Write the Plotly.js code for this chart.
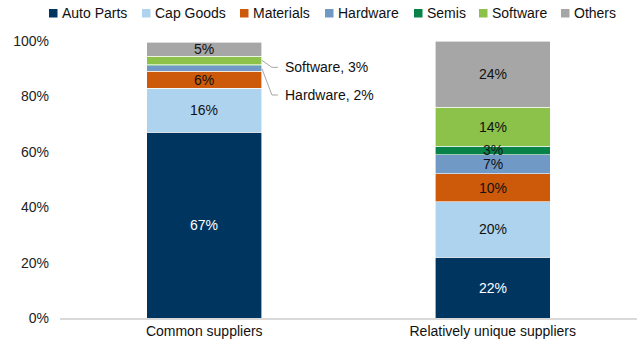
<!DOCTYPE html>
<html>
<head>
<meta charset="utf-8">
<script src="https://cdn.plot.ly/plotly-3.0.1.min.js"></script>
<style>
  html, body { margin: 0; padding: 0; background: #fff; }
  #chart { width: 642px; height: 349px; }
</style>
</head>
<body>
<div id="chart"></div>
<script>
// Supplier mix by end-market, share of suppliers (%)
const categories = ['Common suppliers', 'Relatively unique suppliers'];
const seriesNames = ['Auto Parts', 'Cap Goods', 'Materials', 'Hardware', 'Semis', 'Software', 'Others'];
const autoParts = [67, 22];
const capGoods  = [16, 20];
const materials = [6, 10];
const hardware  = [2, 7];
const semis     = [0.5, 3];
const software  = [3, 14];
const others    = [5, 24];
const yTickVals = [0, 20, 40, 60, 80, 100];
const yTickText = ['0%', '20%', '40%', '60%', '80%', '100%'];

// slices of the first bar that are called out beside it rather than labelled inside
const calloutSeries = ['Software', 'Hardware'];

const seriesValues = [autoParts, capGoods, materials, hardware, semis, software, others];
const colors = ['#00355f', '#aed3ef', '#cc5a0a', '#7199c6', '#07834a', '#8cc24a', '#a6a6a6'];
const textColors = ['#ffffff', '#111', '#111', '#111', '#111', '#111', '#111'];
const FONT = 'Liberation Sans, Arial, sans-serif';

// plot geometry (pixels)
const W = 642, H = 349;
const M = { l: 60, r: 5, t: 41, b: 31 };
const plotW = W - M.l - M.r, plotH = H - M.t - M.b;
const xIdx = categories.map((_, i) => i);

const traces = seriesNames.map((name, s) => ({
  type: 'bar',
  name: name,
  x: xIdx,
  y: seriesValues[s],
  width: 0.4,
  marker: { color: colors[s], line: { color: '#ffffff', width: 0.6 } },
  hoverinfo: 'skip',
  showlegend: false
}));

const shapes = [];
const annotations = [];

// value labels centred in each stacked slice, drawn on top of all bars
xIdx.forEach(i => {
  let base = 0;
  seriesNames.forEach((name, s) => {
    const v = seriesValues[s][i];
    const mid = base + v / 2;
    base += v;
    if (i === 0 && (calloutSeries.includes(name) || v < 1)) return;
    annotations.push({
      xref: 'x', yref: 'y', x: i, y: mid,
      xanchor: 'center', yanchor: 'middle', showarrow: false,
      text: v + '%',
      font: { family: FONT, size: 14, color: textColors[s] }
    });
  });
});

// callout leader lines for the small slices of the first bar
const calloutLabelY = { Software: 90.5, Hardware: 80.5 };
const barHalf = 0.2;
const pxPerX = plotW / 2;
calloutSeries.forEach(name => {
  const s = seriesNames.indexOf(name);
  let base = 0;
  for (let k = 0; k < s; k++) base += seriesValues[k][0];
  const mid = base + seriesValues[s][0] / 2;
  const x0 = xIdx[0] + barHalf;
  const x1 = x0 + 10 / pxPerX;
  const x2 = x0 + 16 / pxPerX;
  const ly = calloutLabelY[name];
  shapes.push({
    type: 'path', xref: 'x', yref: 'y',
    path: `M ${x0},${mid} L ${x1},${ly} L ${x2},${ly}`,
    line: { color: '#a6a6a6', width: 1 }
  });
  annotations.push({
    xref: 'x', yref: 'y', x: x0 + 21 / pxPerX, y: ly,
    xanchor: 'left', yanchor: 'middle', showarrow: false,
    text: `${name}, ${seriesValues[s][0]}%`,
    font: { family: FONT, size: 14, color: '#111' }
  });
});

// legend row across the top
const legendSquareX = [49, 142, 240, 325, 414, 479, 561];
const px2paperX = px => (px - M.l) / plotW;
const px2paperY = py => 1 + (M.t - py) / plotH;
seriesNames.forEach((name, s) => {
  const sx = legendSquareX[s];
  shapes.push({
    type: 'rect', xref: 'paper', yref: 'paper',
    x0: px2paperX(sx), x1: px2paperX(sx + 8.5),
    y0: px2paperY(17.5), y1: px2paperY(9),
    fillcolor: colors[s], line: { width: 0 }
  });
  annotations.push({
    xref: 'paper', yref: 'paper', x: px2paperX(sx + 10.5), y: px2paperY(13.5),
    xanchor: 'left', yanchor: 'middle', showarrow: false,
    text: name,
    font: { family: FONT, size: 14, color: '#111' }
  });
});

const layout = {
  width: W, height: H,
  margin: M,
  paper_bgcolor: '#ffffff',
  plot_bgcolor: '#ffffff',
  barmode: 'stack',
  showlegend: false,
  font: { family: FONT, size: 14, color: '#222' },
  xaxis: {
    range: [-0.5, 1.5],
    tickvals: xIdx,
    ticktext: categories,
    showgrid: false,
    zeroline: false,
    showline: true,
    linecolor: '#d9d9d9',
    linewidth: 1.5,
    ticks: '',
    tickfont: { family: FONT, size: 14, color: '#111' },
    fixedrange: true
  },
  yaxis: {
    range: [0, 100],
    tickvals: yTickVals,
    ticktext: yTickText,
    showgrid: false,
    zeroline: false,
    showline: false,
    ticks: '',
    ticklabelstandoff: 10,
    tickfont: { family: FONT, size: 14, color: '#222' },
    fixedrange: true
  },
  shapes: shapes,
  annotations: annotations
};

Plotly.newPlot('chart', traces, layout, { staticPlot: true, displayModeBar: false });
</script>
</body>
</html>
